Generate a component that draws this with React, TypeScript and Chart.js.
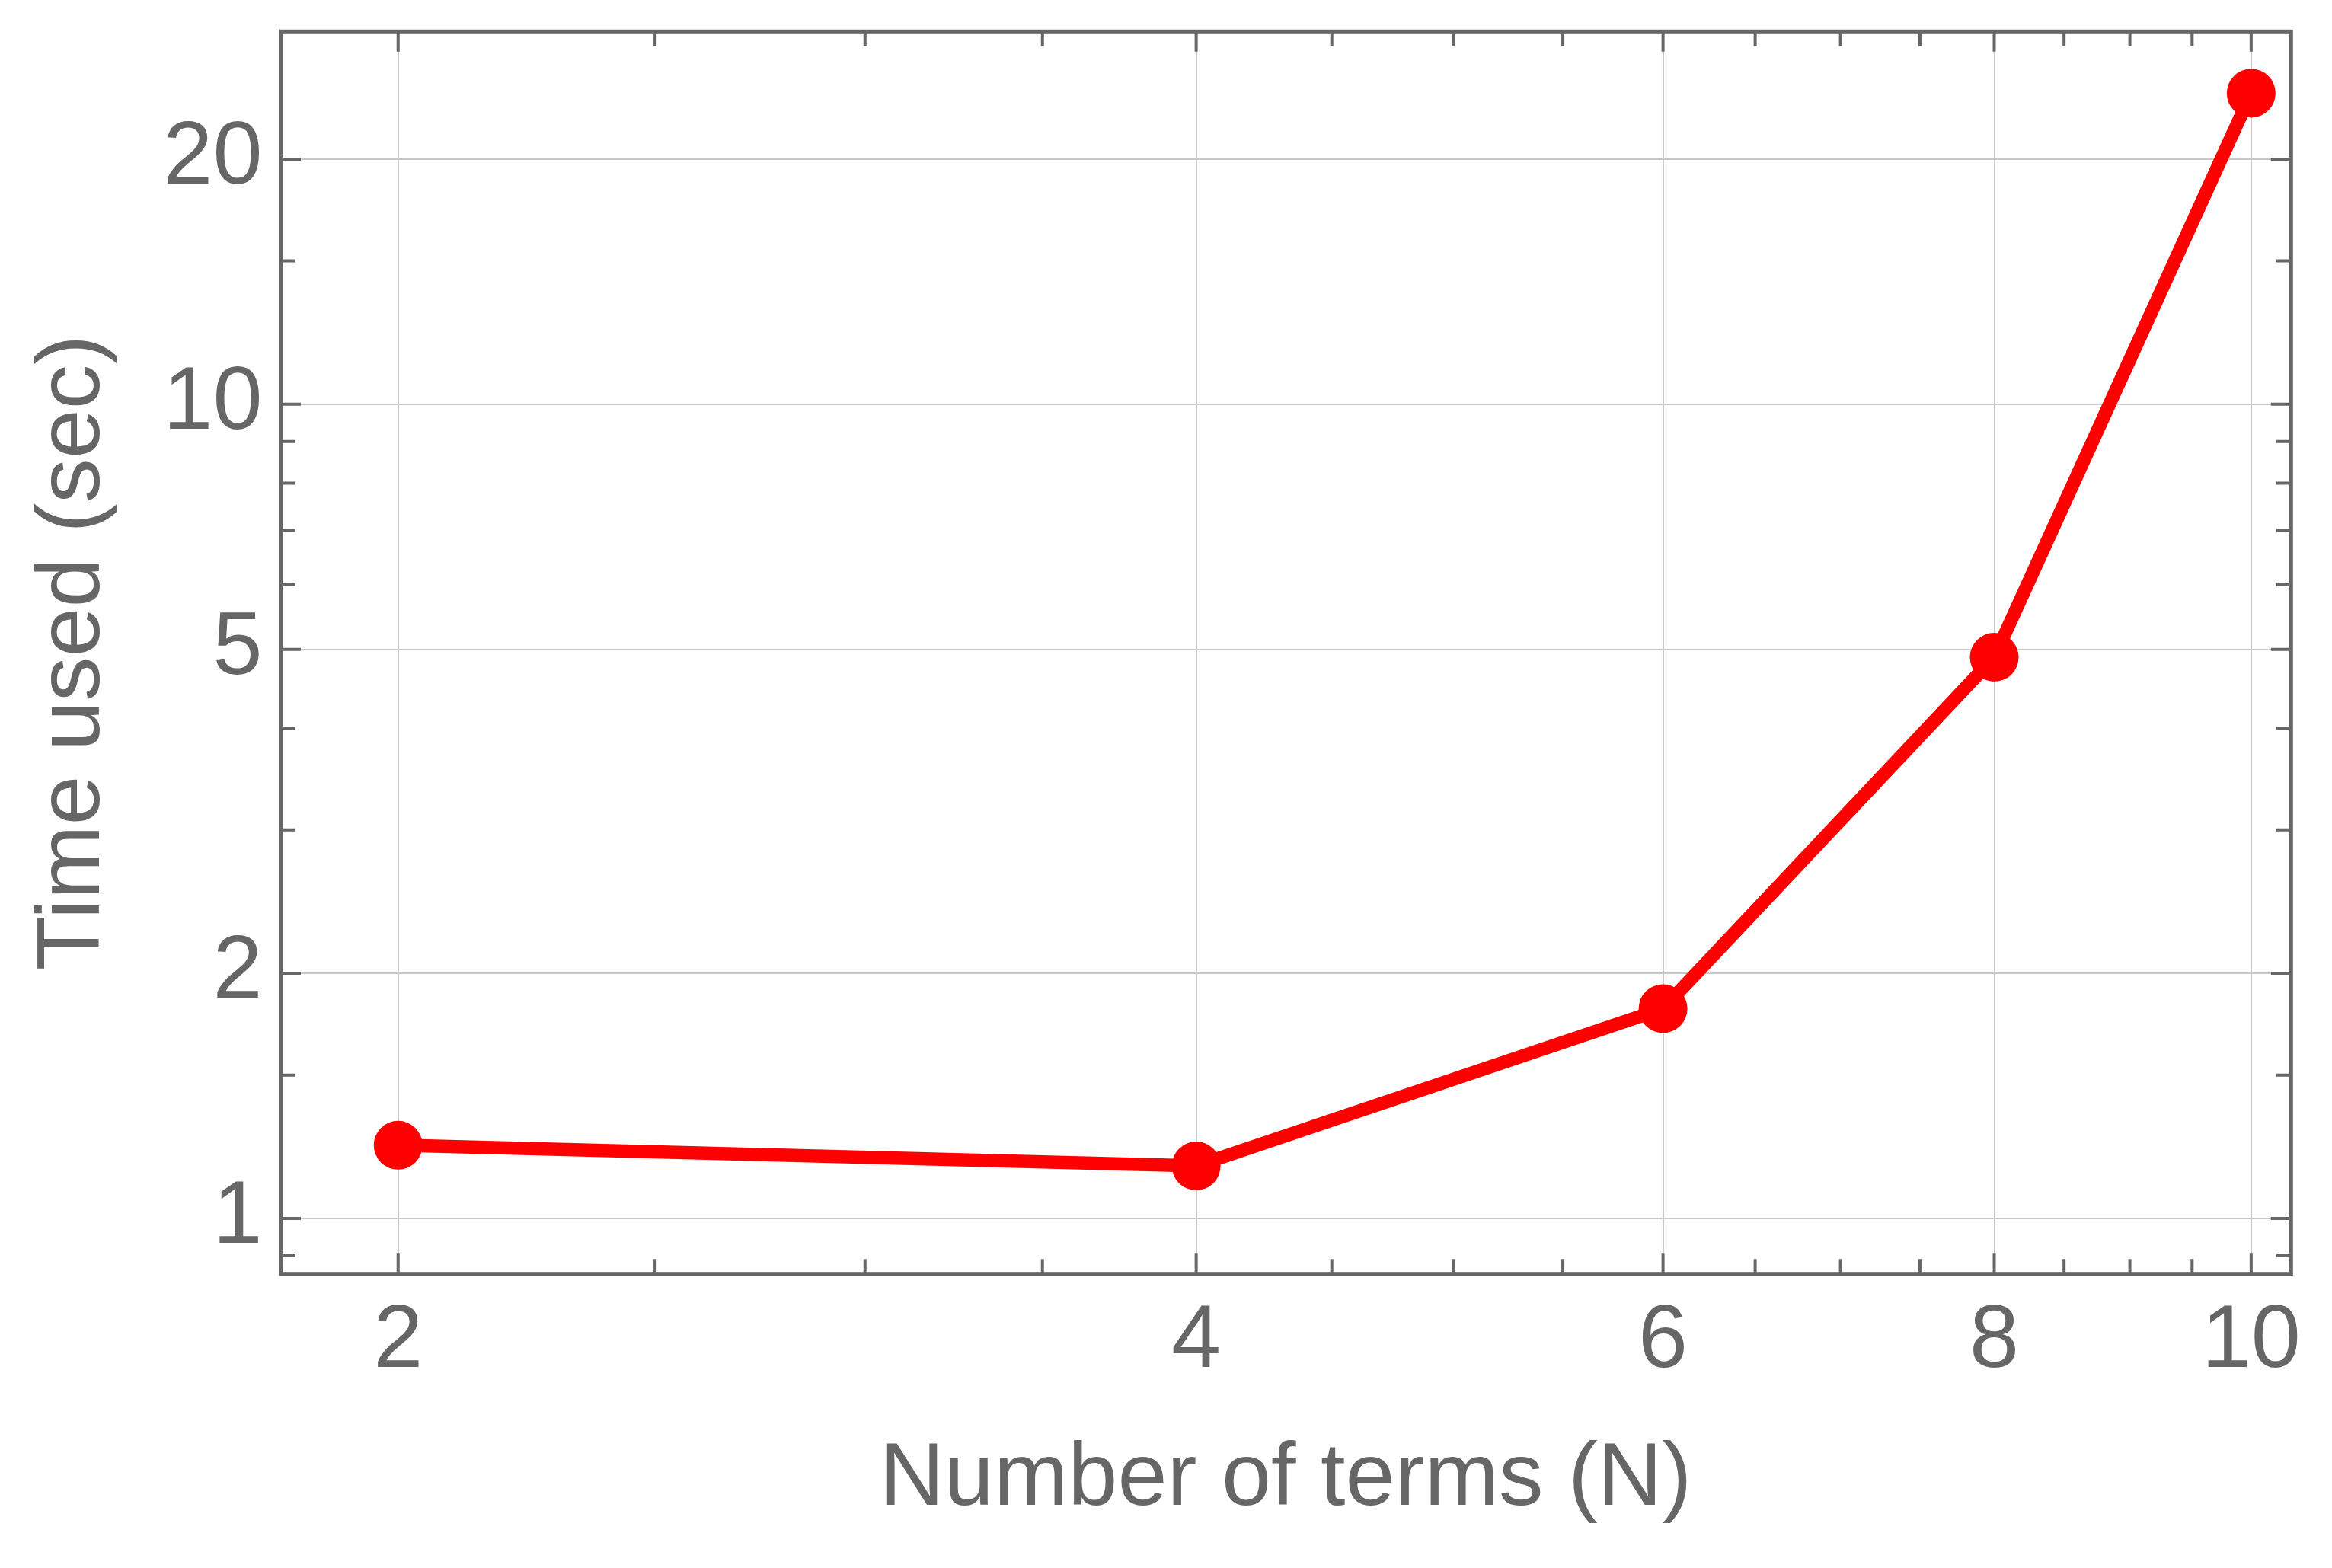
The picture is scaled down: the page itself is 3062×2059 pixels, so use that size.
import React, { useEffect, useRef } from "react";
import { Chart, registerables } from "chart.js";

Chart.register(...registerables);

// ---- data ----
const nTerms = [2, 4, 6, 8, 10];
const timeUsed = [1.23, 1.16, 1.81, 4.89, 24.1];

// ---- ticks ----
const xMajorTicks = [2, 4, 6, 8, 10];
const xMinorTicks = [2.5, 3, 3.5, 4.5, 5, 5.5, 6.5, 7, 7.5, 8.5, 9, 9.5];
const yMajorTicks = [1, 2, 5, 10, 20];
const yMinorTicks = [0.9, 1.5, 3, 4, 6, 7, 8, 9, 15];
const xRange = [1.806, 10.353];
const yRange = [0.855, 28.7];

const xLabel = "Number of terms (N)";
const yLabel = "Time used (sec)";

const FONT = "'Liberation Sans', Arial, Helvetica, sans-serif";
const TEXT_COLOR = "#666666";
const FRAME_COLOR = "#666666";
const GRID_COLOR = "#c8c8c8";
const RED = "#ff0000";

const framePlugin = {
  id: "frameTicks",
  afterDraw(chart: any) {
    const { ctx, chartArea } = chart;
    const { left, right, top, bottom } = chartArea;
    const xs = chart.scales.x;
    const ys = chart.scales.y;
    ctx.save();
    ctx.strokeStyle = FRAME_COLOR;
    ctx.lineWidth = 4;
    ctx.lineCap = "butt";
    const majorLen = 26.5;
    const minorLen = 19.5;
    const drawY = (vals: number[], len: number) => {
      vals.forEach((v) => {
        const p = ys.getPixelForValue(v);
        ctx.beginPath();
        ctx.moveTo(left, p);
        ctx.lineTo(left + len, p);
        ctx.moveTo(right, p);
        ctx.lineTo(right - len, p);
        ctx.stroke();
      });
    };
    const drawX = (vals: number[], len: number) => {
      vals.forEach((v) => {
        const p = xs.getPixelForValue(v);
        ctx.beginPath();
        ctx.moveTo(p, bottom);
        ctx.lineTo(p, bottom - len);
        ctx.moveTo(p, top);
        ctx.lineTo(p, top + len);
        ctx.stroke();
      });
    };
    drawY(yMajorTicks, majorLen);
    drawY(yMinorTicks, minorLen);
    drawX(xMajorTicks, majorLen);
    drawX(xMinorTicks, minorLen);
    ctx.lineWidth = 5;
    ctx.strokeRect(left, top, right - left, bottom - top);
    ctx.restore();
  },
};

export default function App() {
  const canvasRef = useRef<HTMLCanvasElement | null>(null);

  useEffect(() => {
    document.body.style.margin = "0";
    const canvas = canvasRef.current;
    if (!canvas) return;
    const tickFont = { family: FONT, size: 117, lineHeight: 1.2 };
    const chart = new Chart(canvas, {
      type: "line",
      data: {
        datasets: [
          {
            data: nTerms.map((n, i) => ({ x: n, y: timeUsed[i] })),
            borderColor: RED,
            backgroundColor: RED,
            borderWidth: 17.5,
            pointRadius: 32,
            pointHoverRadius: 32,
            pointBorderWidth: 0,
            pointBackgroundColor: RED,
            tension: 0,
          },
        ],
      },
      options: {
        responsive: false,
        animation: false,
        devicePixelRatio: 1,
        layout: { padding: { left: 0, top: 41.3, right: 53.7, bottom: 0 } },
        plugins: {
          legend: { display: false },
          tooltip: { enabled: false },
        },
        scales: {
          x: {
            type: "logarithmic",
            position: "bottom",
            min: xRange[0],
            max: xRange[1],
            afterFit: (s: any) => {
              s.height = 386.3;
              s.paddingLeft = 0;
              s.paddingRight = 0;
            },
            afterBuildTicks: (s: any) => {
              s.ticks = xMajorTicks.map((v) => ({ value: v }));
            },
            ticks: {
              callback: (v: any) => String(v),
              font: tickFont,
              color: TEXT_COLOR,
              padding: 20,
              autoSkip: false,
              maxRotation: 0,
              minRotation: 0,
            },
            grid: { color: GRID_COLOR, lineWidth: 2, drawTicks: false },
            border: { display: false },
            title: {
              display: true,
              text: xLabel,
              font: tickFont,
              color: TEXT_COLOR,
              padding: { top: 0, bottom: 45 },
            },
          },
          y: {
            type: "logarithmic",
            position: "left",
            min: yRange[0],
            max: yRange[1],
            afterFit: (s: any) => {
              s.width = 368.5;
              s.paddingTop = 0;
              s.paddingBottom = 0;
            },
            afterBuildTicks: (s: any) => {
              s.ticks = yMajorTicks.map((v) => ({ value: v }));
            },
            ticks: {
              callback: (v: any) => String(v),
              font: tickFont,
              color: TEXT_COLOR,
              padding: 24,
              autoSkip: false,
            },
            grid: { color: GRID_COLOR, lineWidth: 2, drawTicks: false },
            border: { display: false },
            title: {
              display: true,
              text: yLabel,
              font: tickFont,
              color: TEXT_COLOR,
              padding: { top: 27.6, bottom: 0 },
            },
          },
        },
      } as any,
      plugins: [framePlugin],
    });
    return () => chart.destroy();
  }, []);

  return (
    <canvas
      ref={canvasRef}
      width={3062}
      height={2059}
      style={{ position: "fixed", left: 0, top: 0, width: 3062, height: 2059, display: "block" }}
    />
  );
}
